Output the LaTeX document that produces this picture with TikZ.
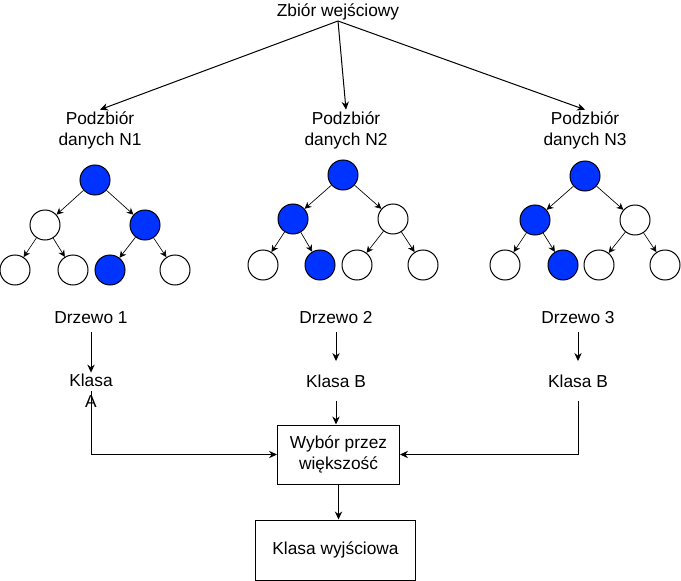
\documentclass[tikz,border=0pt]{standalone}
\usepackage{fontspec}
\setmainfont{Liberation Sans}
\usetikzlibrary{arrows.meta}
\definecolor{nodeblue}{HTML}{0033FF}
\tikzset{
  px/.style={x=0.75pt,y=-0.75pt},
  arr/.style={-{Stealth[length=6pt,width=5.5pt]}, line width=0.75pt},
  ln/.style={line width=0.75pt},
  wnode/.style={circle, draw, line width=0.75pt, fill=white, minimum size=22.5pt, inner sep=0pt},
  bnode/.style={wnode, fill=nodeblue},
  txt/.style={font=\fontsize{13}{15.8}\selectfont, align=center, inner sep=1pt},
  box/.style={draw, line width=0.75pt, font=\fontsize{13}{15.8}\selectfont, align=center, inner sep=0pt},
  tedge/.style={-{Stealth[length=5pt,width=5pt]}, line width=0.5pt}
}
\begin{document}
\begin{tikzpicture}[px]
\useasboundingbox (0,0) rectangle (681,581);
% top
\node[txt] (in) at (338,12) {Zbiór wejściowy};
\coordinate (ins) at (338,21);
\node[txt] (p1) at (100,130) {Podzbiór\\danych N1};
\node[txt] (p2) at (346,130) {Podzbiór\\danych N2};
\node[txt] (p3) at (585,130) {Podzbiór\\danych N3};
\draw[arr] (ins) -- (p1.north);
\draw[arr] (ins) -- (p2.north);
\draw[arr] (ins) -- (p3.north);
% tree 1
\node[bnode] (ar) at (95,180) {};
\node[wnode] (al) at (45,225) {};
\node[bnode] (aR) at (145,225) {};
\node[wnode] (a1) at (15,270) {};
\node[wnode] (a2) at (73,270) {};
\node[bnode] (a3) at (110,270) {};
\node[wnode] (a4) at (175,270) {};
\draw[tedge] (ar) -- (al);
\draw[tedge] (ar) -- (aR);
\draw[tedge] (al) -- (a1);
\draw[tedge] (al) -- (a2);
\draw[tedge] (aR) -- (a3);
\draw[tedge] (aR) -- (a4);
% tree 2
\node[bnode] (br) at (343,175) {};
\node[bnode] (bl) at (293,219) {};
\node[wnode] (bR) at (393,219) {};
\node[wnode] (b1) at (263,265) {};
\node[bnode] (b2) at (320,265) {};
\node[wnode] (b3) at (357,265) {};
\node[wnode] (b4) at (423,265) {};
\draw[tedge] (br) -- (bl);
\draw[tedge] (br) -- (bR);
\draw[tedge] (bl) -- (b1);
\draw[tedge] (bl) -- (b2);
\draw[tedge] (bR) -- (b3);
\draw[tedge] (bR) -- (b4);
% tree 3
\node[bnode] (cr) at (585,176) {};
\node[bnode] (cl) at (535,220) {};
\node[wnode] (cR) at (635,220) {};
\node[wnode] (c1) at (505,265) {};
\node[bnode] (c2) at (563,265) {};
\node[wnode] (c3) at (599,265) {};
\node[wnode] (c4) at (665,265) {};
\draw[tedge] (cr) -- (cl);
\draw[tedge] (cr) -- (cR);
\draw[tedge] (cl) -- (c1);
\draw[tedge] (cl) -- (c2);
\draw[tedge] (cR) -- (c3);
\draw[tedge] (cR) -- (c4);
% tree labels
\node[txt, inner ysep=6pt] (d1) at (91,318) {Drzewo 1};
\node[txt, inner ysep=6pt] (d2) at (336,318) {Drzewo 2};
\node[txt, inner ysep=6pt] (d3) at (578,318) {Drzewo 3};
\node[txt] (ka) at (91,391) {Klasa\\A};
\node[txt, inner ysep=10pt] (kb) at (336,381) {Klasa B};
\node[txt, inner ysep=10pt] (kc) at (578,381) {Klasa B};
\draw[arr] (d1.south) -- (d1.south |- ka.north);
\draw[arr] (d2.south) -- (kb.north);
\draw[arr] (d3.south) -- (kc.north);
% vote
\node[box, minimum width=91.5pt, minimum height=44.25pt] (vote) at (338.5,454.5) {Wybór przez\\większość};
\node[box, minimum width=120pt, minimum height=45pt] (out) at (335.5,550) {Klasa wyjściowa};
\draw[arr] (kb.south) -- (kb.south |- vote.north);
\draw[arr] (ka.center) |- (vote.west);
\draw[arr] (kc.south) |- (vote.east);
\draw[arr] (vote.south) -- (vote.south |- out.north);
\end{tikzpicture}
\end{document}
